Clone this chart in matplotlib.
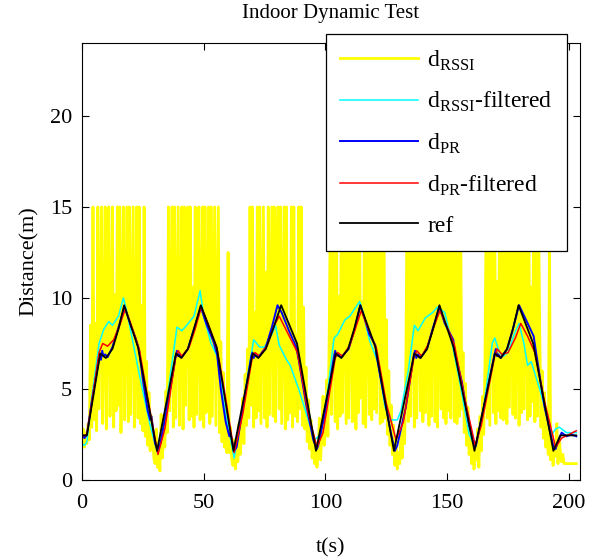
import numpy as np
import matplotlib
matplotlib.use('Agg')
from matplotlib import pyplot as plt

plt.rcParams['font.family'] = ['Liberation Serif', 'DejaVu Serif']
plt.rcParams['mathtext.fontset'] = 'custom'
plt.rcParams['mathtext.rm'] = 'Liberation Serif'
plt.rcParams['font.size'] = 16

# raw RSSI distance, sampled every 0.5 s from t=0 to t=203
t_rssi = np.arange(0, 203.01, 0.5)
d_rssi = [
    2.1, 2.8, 1.8, 2.6, 2.0, 3.1, 2.2, 8.5, 2.9, 15, 3.3, 8.6, 2.7, 15, 3.9, 9.4, 15, 3.1, 7.5, 15,
    2.8, 9.2, 15, 3.5, 8.1, 15, 2.9, 10.2, 3.8, 15, 4.1, 15, 2.6, 9.9, 15, 3.3, 8.4, 15, 3.2, 15,
    3.6, 9.1, 15, 2.9, 8.0, 15, 3.4, 15, 3.1, 9.6, 2.7, 15, 2.4, 6.5, 1.9, 4.8, 1.6, 3.5, 2.4, 1.2,
    0.9, 2.8, 0.7, 1.9, 0.5, 3.6, 1.2, 2.5, 1.8, 4.9, 2.6, 15, 3.8, 9.0, 15, 2.9, 15, 3.4, 9.1, 15,
    3.0, 8.7, 15, 2.8, 15, 4.1, 9.3, 15, 3.3, 15, 3.5, 10.6, 2.9, 15, 3.6, 8.2, 15, 3.3, 9.5, 15,
    2.9, 15, 3.7, 8.8, 15, 3.1, 15, 3.5, 9.4, 15, 3.0, 8.9, 15, 2.6, 7.6, 2.1, 5.9, 1.8, 4.2, 1.5,
    12.5, 1.5, 2.9, 1.1, 0.8, 2.2, 0.6, 1.7, 1.0, 3.1, 1.4, 2.6, 4.5, 2.0, 5.8, 3.0, 7.2, 3.4, 15, 4.1,
    15, 2.9, 9.2, 3.4, 15, 3.8, 15, 3.1, 8.8, 15, 3.4, 11.4, 2.9, 15, 3.6, 9.3, 15, 3.5, 15, 3.2,
    10.8, 15, 3.9, 15, 3.1, 9.1, 15, 2.8, 15, 3.3, 8.6, 3.7, 15, 2.9, 15, 3.5, 8.0, 3.2, 15, 3.9,
    15, 3.0, 9.5, 2.8, 6.2, 2.1, 4.4, 1.7, 3.3, 1.2, 2.5, 0.9, 2.0, 0.7, 1.6, 3.4, 1.1, 2.7, 4.6, 1.9,
    3.0, 5.5, 2.4, 7.6, 15, 3.6, 15, 8.3, 3.2, 15, 2.8, 10.1, 3.5, 15, 3.7, 15, 9.0, 3.1, 15, 3.4,
    8.4, 15, 3.2, 9.9, 15, 2.8, 15, 3.7, 15, 4.5, 9.8, 3.1, 15, 2.9, 8.8, 15, 3.6, 15, 3.3, 15,
    3.9, 15, 3.7, 9.5, 15, 3.1, 15, 3.2, 15, 3.4, 8.8, 2.5, 6.0, 1.9, 4.1, 1.4, 3.0, 0.8, 2.2, 0.6,
    1.5, 0.9, 2.6, 1.2, 3.8, 2.0, 6.1, 15, 3.2, 15, 3.5, 9.3, 15, 2.9, 15, 3.4, 9.4, 15, 3.8, 15,
    3.2, 15, 3.7, 8.6, 15, 3.0, 15, 3.5, 9.8, 15, 3.2, 15, 2.9, 8.6, 12.9, 3.9, 15, 3.4, 15, 3.1,
    15, 3.8, 15, 3.4, 9.6, 15, 3.2, 15, 3.1, 15, 3.5, 15, 3.9, 7.0, 2.6, 5.3, 1.9, 4.0, 1.4, 2.9,
    0.9, 2.2, 0.6, 1.7, 1.1, 2.8, 0.7, 3.5, 1.6, 4.6, 2.5, 6.3, 15, 3.4, 15, 3.0, 8.9, 15, 3.7, 15,
    3.1, 10.9, 3.8, 15, 3.4, 15, 3.3, 8.7, 15, 3.1, 15, 4.0, 9.3, 15, 3.6, 15, 3.4, 8.4, 15, 3.0,
    15, 3.7, 15, 3.9, 9.2, 15, 3.3, 15, 3.5, 10.6, 4.3, 15, 3.2, 15, 3.5, 15, 8.1, 2.9, 6.0, 2.3,
    4.8, 1.8, 3.7, 1.4, 12.8, 1.1, 2.6, 0.8, 2.0, 1.3, 3.1, 0.9, 2.3, 1.5, 1.0, 1.4, 0.9, 0.9, 0.9, 0.9,
    0.9, 0.9, 0.9, 0.9, 0.9, 0.9, 0.9,
]

# filtered RSSI distance
t_rssi_f = [0, 1, 2, 4, 7, 9, 11, 12.5, 15, 17, 18.5, 21, 24, 28, 31, 33,
            36, 39, 41, 43, 46, 48.5, 50, 53, 55.5, 58.5, 62.5, 66,
            70.5, 73, 75, 78, 79.5, 81, 84, 85.5, 89, 95.5, 98,
            101, 103.5, 105, 108, 110, 114, 115.5, 118, 121.5, 124.5, 127, 129.5, 131,
            134, 136.5, 138, 141, 144, 146, 149, 152, 155, 159, 161.5,
            165, 168.5, 169.5, 171.5, 173, 175, 177.5, 179.5, 181.5, 183, 184.5, 188, 193,
            194.5, 196, 199, 203]
d_rssi_f = [2.0, 1.9, 2.1, 4.5, 7.5, 8.3, 8.7, 8.5, 9.0, 10.0, 9.2, 7.5, 5.5, 3.0, 1.5, 2.5,
            5.5, 8.4, 8.2, 8.5, 9.0, 10.4, 9.0, 7.5, 6.8, 4.0, 1.2, 4.0,
            7.7, 7.3, 7.3, 8.0, 8.5, 7.4, 6.6, 6.3, 5.0, 2.2, 2.5,
            5.0, 7.8, 8.0, 8.8, 9.0, 9.8, 9.2, 7.7, 6.5, 4.0, 3.3, 3.3, 3.8,
            6.0, 8.5, 8.2, 8.9, 9.2, 9.5, 9.2, 7.5, 5.5, 2.5, 1.8,
            4.0, 7.5, 7.8, 7.0, 6.8, 7.0, 8.0, 8.6, 7.5, 6.3, 6.5, 5.0, 2.5,
            2.8, 2.9, 2.6, 2.6]

# pseudo-range distance
t_pr = [0, 1, 2, 4, 6, 7.3, 7.8, 8.3, 8.8, 9.5, 10.5, 12.5, 15, 17.5, 20, 22, 23.5, 25, 27, 28, 28.5, 30, 31, 32,
        35, 38.5, 39, 39.5, 40, 41, 43.5, 46, 48.8, 51, 54, 55.5, 57, 59, 60.5, 61, 62.5, 63.5,
        66, 69.5, 70, 70.5, 71, 72.5, 75.5, 78, 80.3, 82, 85, 88, 89, 92, 95, 96.5, 97,
        100, 103.5, 104, 104.5, 105, 106.5, 109.5, 112, 114.3, 116, 118, 120.5, 121, 124, 127, 128.5, 129.5,
        133, 136.3, 136.8, 137.3, 138, 139, 141.7, 144, 146.8, 149, 152.5, 153, 156, 159, 161.5, 162,
        165, 169.4, 170, 170.5, 171, 172, 174.6, 177, 179.5, 182, 185.5, 186.5, 190, 193.5, 194.5,
        196, 197, 199, 201, 203]
d_pr = [2.5, 2.3, 2.5, 4.3, 5.9, 6.9, 6.6, 7.1, 6.8, 6.9, 6.75, 7.3, 8.4, 9.5, 8.5, 7.8, 7.1, 5.5, 3.8, 3.3, 3.5, 2.0, 1.7, 1.9,
        4.0, 6.8, 7.1, 6.8, 6.9, 6.75, 7.2, 8.3, 9.5, 8.6, 7.6, 6.9, 5.0, 3.2, 2.4, 2.6, 1.6, 1.8,
        3.9, 6.8, 7.0, 6.7, 6.9, 6.75, 7.3, 8.4, 9.6, 9.2, 8.2, 7.3, 6.6, 4.2, 2.2, 1.7, 1.9,
        3.8, 6.8, 7.1, 6.8, 6.9, 6.75, 7.2, 8.3, 9.6, 8.9, 8.0, 7.4, 6.8, 4.6, 2.5, 1.6, 1.9,
        4.0, 6.9, 7.1, 6.7, 6.9, 6.7, 7.2, 8.3, 9.5, 8.6, 7.7, 7.1, 5.4, 3.0, 1.8, 2.0,
        4.0, 6.9, 7.2, 6.8, 6.9, 6.7, 7.2, 8.3, 9.6, 8.9, 7.9, 7.0, 4.0, 1.9, 1.7,
        2.3, 2.6, 2.4, 2.5, 2.4]

# filtered pseudo-range distance
t_pr_f = [0, 2, 4.5, 7, 8.5, 10.5, 13, 15.5, 17.8, 20, 23.5, 27, 31.2, 34,
          38.5, 39.5, 41, 44, 46.5, 49, 52, 55.5, 59, 62.5, 66,
          70, 71, 73, 76, 79, 81, 84, 88.5, 93, 96.5, 99,
          104, 105, 107, 110, 112.5, 114.7, 117, 121, 125, 129, 132,
          136.4, 137.5, 139.5, 142, 144.5, 147, 150, 153, 157, 161.5, 164,
          169.5, 170.5, 172.5, 175, 178, 180.2, 183, 186, 190, 194.5, 197, 200, 203]
d_pr_f = [2.4, 2.5, 4.7, 7.0, 7.5, 7.35, 7.7, 8.5, 9.4, 8.6, 7.2, 4.5, 1.4, 2.8,
          6.8, 7.1, 6.8, 7.3, 8.3, 9.5, 8.5, 7.2, 4.5, 1.5, 3.6,
          6.8, 7.0, 6.8, 7.4, 8.5, 9.0, 8.2, 7.0, 3.6, 1.8, 2.6,
          6.7, 7.0, 6.8, 7.4, 8.4, 9.3, 8.5, 7.2, 4.2, 2.2, 3.2,
          6.8, 7.1, 6.8, 7.4, 8.4, 9.3, 8.4, 7.4, 4.6, 1.9, 3.0,
          6.8, 7.2, 6.9, 7.0, 7.8, 8.6, 7.9, 7.0, 4.3, 1.8, 2.3, 2.5, 2.7]

# reference distance
t_ref = [0, 2, 7.5, 9.8, 12.5, 15, 17.3, 23, 30.8,
         38.6, 40.8, 43.5, 46, 48.8, 55.3, 62.2,
         70.1, 72.4, 75.5, 78.5, 81.8, 88.3, 96.1,
         104.2, 106.5, 109.3, 111.8, 114.3, 120.5, 128.1,
         136.5, 139, 141.7, 144.2, 146.8, 152.6, 161.2,
         169.6, 172, 174.6, 177, 179.3, 185.3, 193.6, 196.5, 203]
d_ref = [2.45, 2.45, 6.95, 6.7, 7.2, 8.3, 9.6, 7.3, 1.6,
         6.95, 6.7, 7.2, 8.3, 9.6, 7.3, 1.6,
         6.95, 6.7, 7.2, 8.3, 9.6, 7.5, 1.6,
         6.95, 6.7, 7.2, 8.3, 9.6, 7.3, 1.6,
         6.95, 6.7, 7.2, 8.3, 9.6, 7.3, 1.6,
         6.95, 6.7, 7.2, 8.3, 9.6, 7.5, 1.6, 2.45, 2.45]

fig = plt.figure(figsize=(5.96, 5.6), dpi=100)
ax = fig.add_axes([0.1376, 0.1429, 0.8354, 0.7801])

ax.plot(t_rssi, d_rssi, color='#ffff00', lw=2.0, label=r'd$_{\mathrm{RSSI}}$')
ax.plot(t_rssi_f, d_rssi_f, color='#00ffff', lw=1.1, label=r'd$_{\mathrm{RSSI}}$-filtered')
ax.plot(t_pr, d_pr, color='#0000ff', lw=1.4, label=r'd$_{\mathrm{PR}}$')
ax.plot(t_pr_f, d_pr_f, color='#ff0000', lw=1.1, label=r'd$_{\mathrm{PR}}$-filtered')
ax.plot(t_ref, d_ref, color='black', lw=1.3, label='ref')

ax.set_xlim(0, 204.5)
ax.set_ylim(0, 24)
ax.set_xticks([0, 50, 100, 150, 200])
ax.set_yticks([0, 5, 10, 15, 20])
ax.tick_params(direction='in', top=True, right=True, length=5, width=0.8, pad=7)
ax.tick_params(axis='x', pad=10)
ax.set_title('Indoor Dynamic Test', fontsize=15, pad=18)
ax.set_xlabel('t(s)', labelpad=18)
ax.set_ylabel('Distance(m)', labelpad=8)

leg = ax.legend(loc='upper right', bbox_to_anchor=(0.951, 0.939), bbox_transform=fig.transFigure,
                borderaxespad=0, fancybox=False, framealpha=1, edgecolor='black', handlelength=3.3,
                handletextpad=0.4, labelspacing=0.74, borderpad=0.6, fontsize=17)
leg.get_frame().set_linewidth(0.9)
leg.set_zorder(10)

fig.savefig('out.png', dpi=100)
